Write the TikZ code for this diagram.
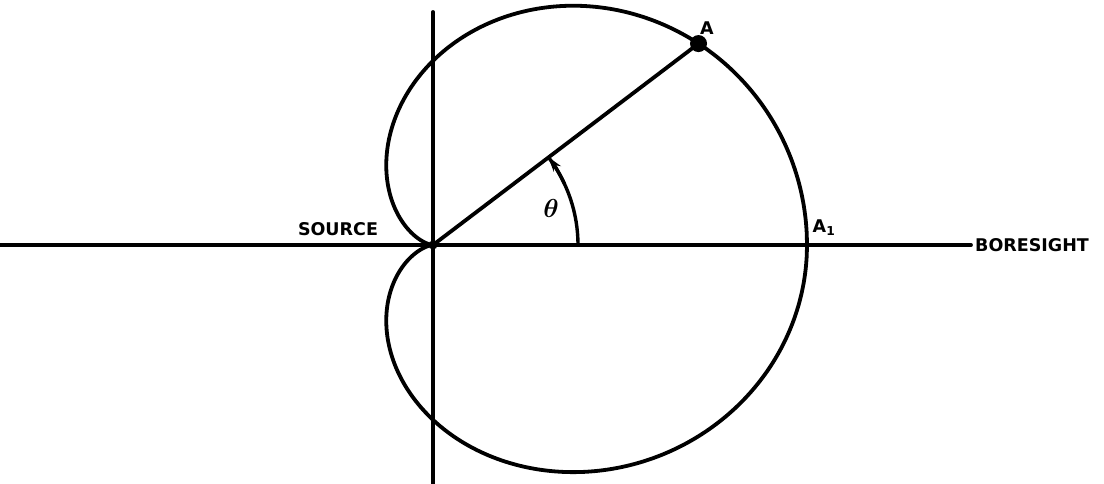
\documentclass[tikz,border=0pt]{standalone}
\usepackage{fontspec}
\setsansfont{DejaVu Sans}
\usetikzlibrary{arrows.meta,calc}
\tikzset{
  heavy/.style={line width=3.8pt, line cap=round, line join=round},
  lbl/.style={font=\sffamily\bfseries\fontsize{17.5}{20}\selectfont, inner sep=0pt},
}
\begin{document}
\begin{tikzpicture}[x=1pt,y=-1pt]
\useasboundingbox (0,0) rectangle (1104,484);
\fill[white] (0,0) rectangle (1104,484);
% axes
\coordinate (O) at (433,245);
\coordinate (Lend) at (0,245);
\coordinate (Vtop) at (433,12);
\coordinate (Vbot) at (433,484);
\node[lbl, anchor=west] (bore) at (975,245) {BORESIGHT};
\draw[heavy] (Lend) -- ([xshift=-4pt]bore.west);
\draw[heavy] (Vtop) -- (Vbot);
% cardioid-like pattern
\draw[heavy] plot[domain=0:360, samples=181, smooth cycle]
  ({433+187*(1+cos(\x))*cos(\x)},
   {245-187*(1+cos(\x))*sin(\x)*(\x<180 ? 0.985 : 0.935)});
% point A on the pattern
\coordinate (A) at ({433+187*(1+cos(37.6))*cos(37.6)},{245-187*(1+cos(37.6))*sin(37.6)*0.985});
\draw[heavy] (O) -- (A);
\fill (A) circle (8.5);
\fill (O) circle (4.5);
% theta arc
\coordinate (T0) at (578,245);
\coordinate (T1) at ($(O)+({cos(-25)*145},{sin(-25)*145})$);
\draw[line width=3.4pt] (T0) arc[start angle=0, end angle=-37.6, radius=145];
\draw[line width=3.4pt, -{Stealth[length=15pt,width=9pt]}]
  (T1) arc[start angle=-25, end angle=-37.4, radius=145];
% labels
\node[lbl] (src) at (338,229) {SOURCE};
\node[lbl] (la) at (707,28) {A};
\node[lbl] (la1) at (824,228) {A\textsubscript{1}};
\node[inner sep=0pt, scale=2.6, font=\boldmath] (th) at (551,208) {$\theta$};
\end{tikzpicture}
\end{document}
